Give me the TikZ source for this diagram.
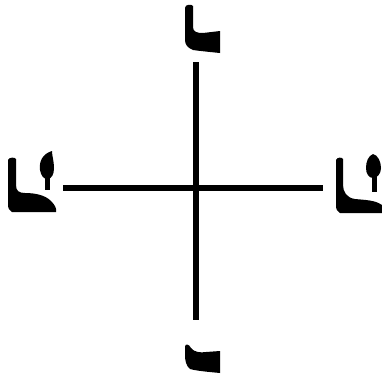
\documentclass[tikz,border=0pt]{standalone}
\begin{document}
\begin{tikzpicture}[x=1pt, y=-1pt, line cap=butt, line join=round]
  \definecolor{ink}{RGB}{0,0,0}
  \useasboundingbox (0,0) rectangle (382,378);
  \coordinate (N) at (196,62);
  \coordinate (S) at (196,320);
  \coordinate (W) at (63,188);
  \coordinate (E) at (323,188);
  \draw[line width=5.5pt, ink] (N)--(S);
  \draw[line width=5.5pt, ink] (W)--(E);
  % top sign
  \fill[ink] (185,8) .. controls (185,4) and (192,4) .. (193,6) -- (193,27)
    .. controls (193,32) and (197,33) .. (203,33) -- (220,31) -- (220,53)
    .. controls (210,52) and (200,51) .. (193,50)
    .. controls (188,48) and (185,45) .. (185,40) -- cycle;
  % bottom sign
  \fill[ink] (185,347) .. controls (185,343) and (189,344) .. (191,348)
    .. controls (194,352) and (200,353) .. (206,352) -- (220,351) -- (220,373)
    .. controls (210,372) and (197,371) .. (190,369)
    .. controls (186,366) and (185,360) .. (185,355) -- cycle;
  % left sign
  \fill[ink] (8,160) .. controls (9,157) and (15,157) .. (16,159) -- (16,185)
    .. controls (16,191) and (19,193) .. (25,193)
    .. controls (35,193) and (45,195) .. (51,201)
    .. controls (55,205) and (57,209) .. (56,212) -- (12,212)
    .. controls (9,211) and (8,208) .. (8,204) -- cycle;
  \fill[ink] (52,151) .. controls (42,154) and (39,162) .. (40,170)
    .. controls (41,176) and (44,179) .. (47,179)
    .. controls (52,179) and (54,174) .. (54,168)
    .. controls (54,161) and (52,156) .. (52,151) -- cycle;
  \fill[ink] (44.5,176) rectangle (50,190);
  % right sign
  \fill[ink] (336,160) .. controls (337,157) and (342,157) .. (343,159) -- (343,185)
    .. controls (343,192) and (347,198) .. (355,199)
    .. controls (365,200) and (375,200) .. (382,205) -- (382,213) -- (340,213)
    .. controls (337,212) and (336,209) .. (336,205) -- cycle;
  \fill[ink] (373,154) .. controls (368,156) and (366,162) .. (366,168)
    .. controls (366,174) and (369,178) .. (373,178)
    .. controls (377,178) and (381,174) .. (381,168)
    .. controls (381,162) and (378,155) .. (373,154) -- cycle;
  \fill[ink] (371.5,175) rectangle (377,192);
\end{tikzpicture}
\end{document}
